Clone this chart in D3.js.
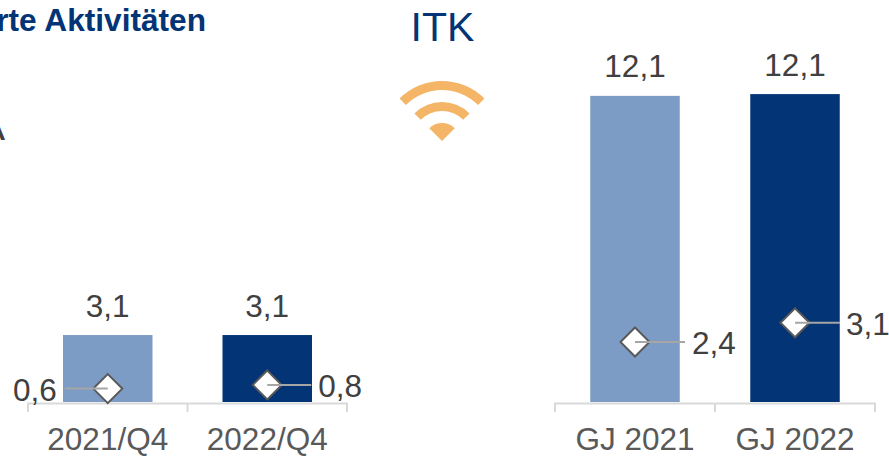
<!DOCTYPE html>
<html><head><meta charset="utf-8">
<script src="https://cdnjs.cloudflare.com/ajax/libs/d3/7.8.5/d3.min.js"></script>
<style>html,body{margin:0;padding:0;background:#fff;overflow:hidden}svg{display:block}text{font-family:"Liberation Sans",Arial,sans-serif}</style>
</head><body><svg id="c" width="889" height="456"></svg>
<script>
const quarterCats = ["2021/Q4","2022/Q4"];
const quarterBars = [3.1,3.1];
const quarterMarks = [0.62,0.79];
const quarterBarLabels = ["3,1","3,1"];
const quarterMarkLabels = ["0,6","0,8"];
const yearCats = ["GJ 2021","GJ 2022"];
const yearBars = [12.1,12.17];
const yearMarks = [2.37,3.13];
const yearBarLabels = ["12,1","12,1"];
const yearMarkLabels = ["2,4","3,1"];
const barColors = ["#7c9cc5","#033476"];
const svg = d3.select("#c");
const base = 402;
const wifiColor="#f4b566";
const fs=31.5;

function panel(x0,x1,pxPerUnit,cats,bars,marks,barLabels,markLabels,leaderSpec){
  const x=d3.scaleBand().domain(cats).range([x0,x1]);
  const y=d3.scaleLinear().domain([0,14]).range([base,base-14*pxPerUnit]);
  const g=svg.append("g");
  const bw=89.5;
  cats.forEach((c,i)=>{
    const cx=x(c)+x.bandwidth()/2;
    g.append("rect").attr("x",cx-bw/2).attr("y",y(bars[i])).attr("width",bw).attr("height",base-y(bars[i])).attr("fill",barColors[i]);
    g.append("text").attr("x",cx).attr("y",y(bars[i])-18.5).attr("text-anchor","middle").attr("font-size",fs).attr("fill","#404040").text(barLabels[i]);
  });
  const ax=g.append("g").attr("transform",`translate(0,${base})`).call(d3.axisBottom(x).tickSize(0));
  ax.select(".domain").remove();
  ax.selectAll("text").attr("y",48).attr("dy",0).attr("font-size",fs).attr("fill","#595959");
  g.append("path").attr("d",`M${x0},${base+10}V${base+1.5}H${x1}V${base+10}M${(x0+x1)/2},${base+1.5}V${base+10}`).attr("fill","none").attr("stroke","#d9d9d9").attr("stroke-width",2);
  cats.forEach((c,i)=>{
    const cx=x(c)+x.bandwidth()/2;
    const my=y(marks[i]);
    const [lx,tx,anchor]=leaderSpec[i];
    g.append("path").attr("d",`M${cx},${my-14.5}L${cx+14.5},${my}L${cx},${my+14.5}L${cx-14.5},${my}Z`).attr("fill","#fff").attr("stroke","#595959").attr("stroke-width",2);
    g.append("line").attr("x1",cx).attr("x2",cx+lx).attr("y1",my).attr("y2",my).attr("stroke","#a6a6a6").attr("stroke-width",2);
    g.append("text").attr("x",cx+tx).attr("y",my+12).attr("text-anchor",anchor).attr("font-size",fs).attr("fill","#404040").text(markLabels[i]);
  });
}
panel(28,347,21.6,quarterCats,quarterBars,quarterMarks,quarterBarLabels,quarterMarkLabels,[[-43,-51,"end"],[44,51,"start"]]);
panel(555,875,25.3,yearCats,yearBars,yearMarks,yearBarLabels,yearMarkLabels,[[50,57,"start"],[45,51,"start"]]);

svg.append("text").attr("x",206).attr("y",31).attr("text-anchor","end").attr("font-size",26.5*160/134).attr("font-weight","bold").attr("fill","#033476").text("Innovationsgetriebene und ausgelagerte Aktivitäten");
svg.append("text").attr("x",442.5).attr("y",41).attr("text-anchor","middle").attr("font-size",41).attr("fill","#033476").text("ITK");
svg.append("text").attr("x",5).attr("y",140).attr("text-anchor","end").attr("font-size",41).attr("fill","#404040").text("A");

const sector=(r0,r1)=>d3.arc().innerRadius(r0).outerRadius(r1).startAngle(-Math.PI/4).endAngle(Math.PI/4)();
[[0,18],[30,39],[51,60]].forEach(([a,b])=>{
  svg.append("path").attr("transform","translate(442,141)").attr("d",sector(a,b)).attr("fill",wifiColor);
});
</script></body></html>
